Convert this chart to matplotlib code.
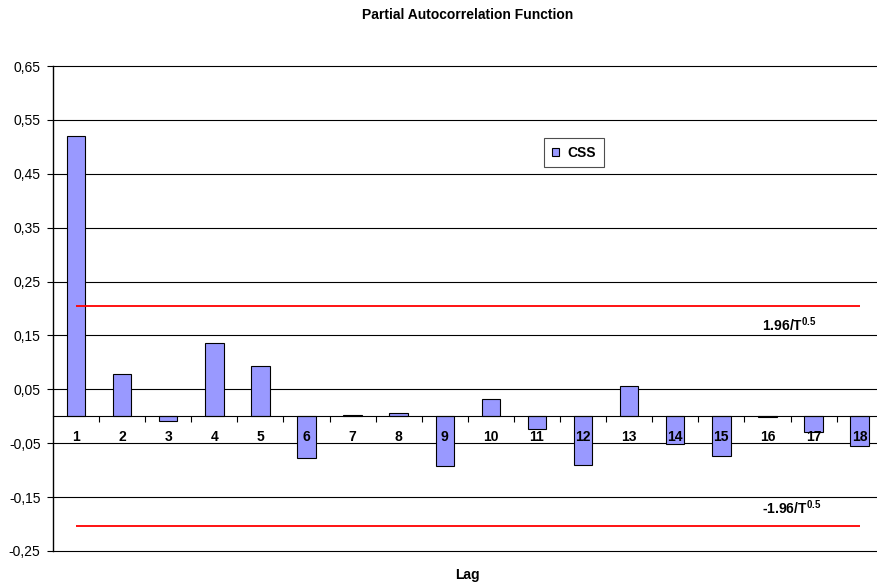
import matplotlib
matplotlib.use("Agg")
import matplotlib.pyplot as plt
from matplotlib.ticker import FuncFormatter, FixedLocator
import numpy as np

lags = list(range(1, 19))
css = [0.520, 0.079, -0.009, 0.136, 0.093, -0.078, 0.003, 0.006, -0.093,
       0.032, -0.023, -0.090, 0.057, -0.051, -0.073, -0.002, -0.030, -0.055]
bound = 0.204
yticks = [-0.25, -0.15, -0.05, 0.05, 0.15, 0.25, 0.35, 0.45, 0.55, 0.65]

plt.rcParams['font.family'] = ['Liberation Sans', 'DejaVu Sans']
plt.rcParams['mathtext.fontset'] = 'custom'
plt.rcParams['mathtext.rm'] = 'Liberation Sans:bold'
plt.rcParams['mathtext.bf'] = 'Liberation Sans:bold'

W, H = 877, 586
fig = plt.figure(figsize=(W / 100, H / 100), dpi=100)
left, right, top, bottom = 53, 882.7, 66, 551
ax = fig.add_axes([left / W, 1 - bottom / H, (right - left) / W, (bottom - top) / H])

for s in ['top', 'right']:
    ax.spines[s].set_visible(False)
ax.spines['bottom'].set_position(('data', 0))
ax.spines['bottom'].set_linewidth(0.8)
ax.spines['left'].set_linewidth(1.0)

ax.set_axisbelow(True)
bars = ax.bar(lags, css, width=0.4, color='#9999FF', edgecolor='black', linewidth=0.8, zorder=2)
ax.set_xlim(0.5, 18.5)
ax.set_ylim(yticks[0], yticks[-1])

ax.yaxis.set_major_locator(FixedLocator(yticks))
ax.yaxis.set_major_formatter(FuncFormatter(lambda v, p: f"{v:.2f}".replace('.', ',')))
ax.tick_params(axis='y', direction='out', length=4, width=0.8, labelsize=10, pad=5)
for yv in yticks:
    ax.axhline(yv, color='black', linewidth=0.8, zorder=0.6, clip_on=False)

ax.xaxis.set_zorder(5)
ax.set_xticks(np.arange(1.5, 18.5, 1), minor=True)
ax.tick_params(axis='x', which='major', length=0, pad=10, labelsize=10)
ax.tick_params(axis='x', which='minor', direction='out', length=4, width=0.8)
ax.set_xticks(lags)
ax.set_xticklabels([str(l) for l in lags], fontweight='bold')

ax.hlines([bound, -bound], lags[0], lags[-1], colors='red', linewidth=1.3, zorder=3)
ax.text(15.88, 0.170, r"1.96/T$^{\mathbf{0.5}}$", fontweight='bold', fontsize=10,
        ha='left', va='center', zorder=6)
ax.text(15.88, -0.169, r"-1.96/T$^{\mathbf{0.5}}$", fontweight='bold', fontsize=10,
        ha='left', va='center', zorder=6)

leg = ax.legend([bars], ['CSS'], loc='upper left', bbox_to_anchor=(0.592, 0.8515),
                frameon=True, fancybox=False, handlelength=0.55, handleheight=0.55,
                handletextpad=0.6, borderpad=0.55, borderaxespad=0,
                prop={'weight': 'bold', 'size': 10})
leg.get_frame().set_edgecolor('#222222')
leg.get_frame().set_linewidth(0.8)
leg.set_zorder(7)

xc = (left + right) / 2 / W
fig.text(xc, 1 - 15 / H, "Partial Autocorrelation Function", ha='center', va='center',
         fontweight='bold', fontsize=10)
fig.text(xc, 1 - 575 / H, "Lag", ha='center', va='center', fontweight='bold', fontsize=10)

fig.savefig("out.png", dpi=100)
